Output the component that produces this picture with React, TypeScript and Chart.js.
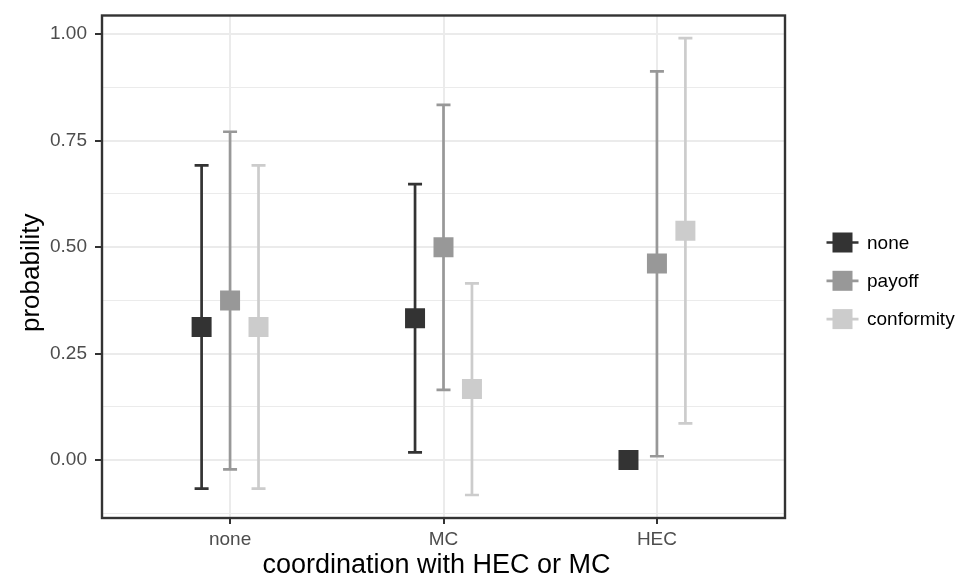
import React, { useEffect, useRef } from "react";
import { Chart, registerables } from "chart.js";

Chart.register(...registerables);

// ---- data ----
const categories = ["none", "MC", "HEC"];
const seriesNames = ["none", "payoff", "conformity"];
const seriesColors = ["#333333", "#989898", "#CCCCCC"];

const meanNone = [0.3125, 0.3333, 0.0];
const lowNone = [-0.067, 0.018, 0.0];
const highNone = [0.692, 0.648, 0.0];

const meanPayoff = [0.375, 0.5, 0.4615];
const lowPayoff = [-0.022, 0.165, 0.009];
const highPayoff = [0.771, 0.834, 0.913];

const meanConformity = [0.3125, 0.1667, 0.5385];
const lowConformity = [-0.067, -0.082, 0.086];
const highConformity = [0.692, 0.415, 0.991];

const yMajorTicks = [0, 0.25, 0.5, 0.75, 1.0];
const yMinorTicks = [-0.125, 0.125, 0.375, 0.625, 0.875];

const xTitle = "coordination with HEC or MC";
const yTitle = "probability";

const means = [meanNone, meanPayoff, meanConformity];
const lows = [lowNone, lowPayoff, lowConformity];
const highs = [highNone, highPayoff, highConformity];

const DODGE = 0.4;
const FONT = '"Liberation Sans", Arial, Helvetica, sans-serif';

function dodgeOffset(si: number) {
  const n = seriesNames.length;
  return (si - (n - 1) / 2) * (DODGE / n);
}

const isMajor = (v: number) => yMajorTicks.some((m) => Math.abs(m - v) < 1e-9);

const errorBarPlugin = {
  id: "errorbars",
  beforeDatasetsDraw(chart: any) {
    const ctx = chart.ctx;
    const xs = chart.scales.x;
    const ys = chart.scales.y;
    ctx.save();
    chart.data.datasets.forEach((ds: any, si: number) => {
      ctx.strokeStyle = seriesColors[si];
      ctx.lineWidth = 2.7;
      ctx.lineCap = "butt";
      ds.data.forEach((pt: any, j: number) => {
        const x = xs.getPixelForValue(pt.x);
        const yl = ys.getPixelForValue(lows[si][j]);
        const yh = ys.getPixelForValue(highs[si][j]);
        const hw = 7;
        ctx.beginPath();
        ctx.moveTo(x, yl);
        ctx.lineTo(x, yh);
        ctx.moveTo(x - hw, yl);
        ctx.lineTo(x + hw, yl);
        ctx.moveTo(x - hw, yh);
        ctx.lineTo(x + hw, yh);
        ctx.stroke();
      });
    });
    ctx.restore();
  },
  afterDraw(chart: any) {
    const ctx = chart.ctx;
    const a = chart.chartArea;
    ctx.save();
    // panel border
    ctx.strokeStyle = "#333333";
    ctx.lineWidth = 2.4;
    ctx.strokeRect(a.left, a.top, a.right - a.left, a.bottom - a.top);

    // axis titles
    ctx.fillStyle = "#000000";
    ctx.font = `27px ${FONT}`;
    ctx.textAlign = "center";
    ctx.textBaseline = "alphabetic";
    ctx.fillText(xTitle, (a.left + a.right) / 2 - 7, 573);
    ctx.font = `26px ${FONT}`;
    ctx.save();
    ctx.translate(39, (a.top + a.bottom) / 2 + 6);
    ctx.rotate(-Math.PI / 2);
    ctx.fillText(yTitle, 0, 0);
    ctx.restore();

    // legend
    const lx = 842.5;
    const ly0 = 242.5;
    const step = 38.3;
    ctx.font = `19px ${FONT}`;
    ctx.textAlign = "left";
    ctx.textBaseline = "middle";
    seriesNames.forEach((name, i) => {
      const y = ly0 + i * step;
      ctx.strokeStyle = seriesColors[i];
      ctx.lineWidth = 2.7;
      ctx.beginPath();
      ctx.moveTo(lx - 16, y);
      ctx.lineTo(lx + 16, y);
      ctx.stroke();
      ctx.fillStyle = seriesColors[i];
      ctx.fillRect(lx - 10, y - 10, 20, 20);
      ctx.fillStyle = "#000000";
      ctx.fillText(name, 867, y + 1);
    });
    ctx.restore();
  },
};

export default function App() {
  const ref = useRef<HTMLCanvasElement | null>(null);
  useEffect(() => {
    document.body.style.margin = "0";
    const canvas = ref.current!;
    const datasets = seriesNames.map((name, si) => ({
      label: name,
      data: categories.map((_, i) => ({ x: i + 1 + dodgeOffset(si), y: means[si][i] })),
      backgroundColor: seriesColors[si],
      borderColor: seriesColors[si],
      pointStyle: "rect",
      pointRadius: 14.14,
      pointHoverRadius: 14.14,
      borderWidth: 0,
      pointBorderWidth: 0,
      showLine: false,
    }));
    const chart = new Chart(canvas, {
      type: "scatter",
      data: { datasets } as any,
      options: {
        animation: false,
        responsive: false,
        devicePixelRatio: 1,
        events: [],
        layout: { padding: { top: 15.5, right: 172, left: 0, bottom: 0 } },
        plugins: { legend: { display: false }, tooltip: { enabled: false } },
        scales: {
          x: {
            type: "linear",
            min: 0.4,
            max: 3.6,
            afterBuildTicks: (scale: any) => {
              scale.ticks = categories.map((_, i) => ({ value: i + 1 }));
            },
            afterFit: (scale: any) => {
              scale.height = 58;
              scale.paddingLeft = 0;
              scale.paddingRight = 0;
            },
            ticks: {
              autoSkip: false,
              maxRotation: 0,
              padding: 4,
              color: "#4D4D4D",
              font: { family: FONT, size: 19 },
              callback: (_v: any, i: number) => categories[i],
            },
            grid: {
              color: "#EBEBEB",
              lineWidth: 2,
              tickColor: "#333333",
              tickLength: 6,
              tickWidth: 2,
            },
            border: { display: false },
          },
          y: {
            type: "linear",
            min: -0.136,
            max: 1.044,
            afterBuildTicks: (scale: any) => {
              scale.ticks = [...yMinorTicks, ...yMajorTicks]
                .sort((p, q) => p - q)
                .map((v) => ({ value: v }));
            },
            afterFit: (scale: any) => {
              scale.width = 102;
              scale.paddingTop = 0;
              scale.paddingBottom = 0;
            },
            ticks: {
              autoSkip: false,
              padding: 8,
              color: "#4D4D4D",
              font: { family: FONT, size: 19 },
              callback: (v: any) => (isMajor(Number(v)) ? Number(v).toFixed(2) : ""),
            },
            grid: {
              color: "#EBEBEB",
              lineWidth: (c: any) => (c.tick && isMajor(c.tick.value) ? 2 : 1),
              tickColor: (c: any) =>
                c.tick && isMajor(c.tick.value) ? "#333333" : "rgba(0,0,0,0)",
              tickLength: 7,
              tickWidth: 2,
            },
            border: { display: false },
          },
        },
      },
      plugins: [errorBarPlugin],
    } as any);
    return () => chart.destroy();
  }, []);
  return (
    <div style={{ position: "absolute", left: 0, top: 0, width: 957, height: 576, background: "#fff" }}>
      <canvas ref={ref} width={957} height={576} />
    </div>
  );
}
